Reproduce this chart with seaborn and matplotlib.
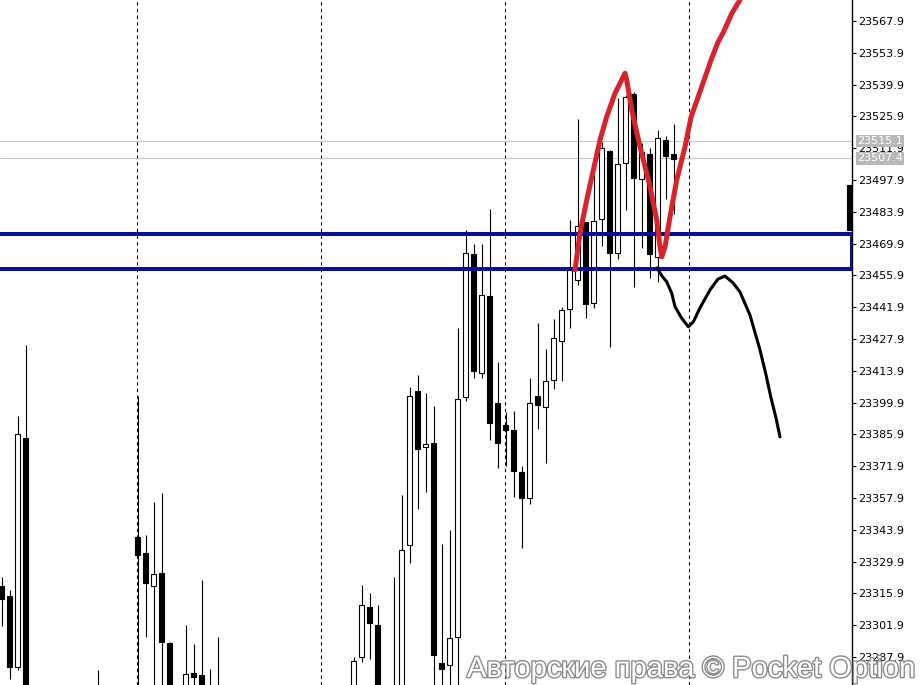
import numpy as np
import pandas as pd
import seaborn as sns
import matplotlib.pyplot as plt
from matplotlib.patches import Rectangle
import matplotlib.patheffects as pe

# --- candles (bar number, OHLC) ---
bar_idx = [0, 1, 2, 3, 12, 17, 18, 19, 20, 21, 23, 24, 25, 26, 27,
           44, 45, 46, 47, 49, 50, 51, 52, 53, 54, 55, 56, 57, 58, 59,
           60, 61, 62, 63, 64, 65, 66, 67, 68, 69, 70, 71, 72, 73, 74,
           75, 76, 77, 78, 79, 80, 81, 82, 83, 84, 106]
opens = [23319.2, 23314.8, 23283.4, 23384.3, 23262.0, 23340.6, 23333.7, 23319.3, 23324.8, 23293.9,
         23268.0, 23280.9, 23279.8, 23268.0, 23270.0,
         23270.0, 23287.8, 23309.8, 23301.9, 23265.0, 23268.0, 23337.1, 23405.0, 23380.5, 23382.1,
         23285.3, 23284.5, 23296.8, 23402.5, 23465.3,
         23413.1, 23446.7, 23399.7, 23390.0, 23387.8, 23369.4, 23357.8, 23402.8, 23398.1, 23409.7,
         23426.9, 23441.1, 23453.9, 23479.4, 23443.6,
         23480.6, 23510.7, 23465.6, 23505.6, 23535.8, 23498.2, 23509.2, 23464.2, 23515.5, 23509.4,
         23495.7]
highs = [23323.1, 23317.4, 23394.0, 23425.3, 23282.2, 23402.8, 23341.5, 23356.1, 23360.0, 23294.5,
         23302.0, 23293.6, 23321.8, 23282.6, 23296.7,
         23287.8, 23319.6, 23315.9, 23310.7, 23323.1, 23359.2, 23406.9, 23412.1, 23404.0, 23398.4,
         23337.7, 23343.8, 23432.9, 23475.9, 23469.6,
         23469.6, 23485.1, 23417.6, 23395.8, 23396.2, 23372.0, 23410.6, 23434.8, 23423.5, 23436.7,
         23441.9, 23480.3, 23524.6, 23479.5, 23500.1,
         23514.8, 23511.1, 23534.0, 23535.3, 23536.8, 23514.2, 23511.9, 23519.9, 23517.3, 23522.4,
         23495.7]
lows = [23301.6, 23278.2, 23282.2, 23240.0, 23250.0, 23260.0, 23296.8, 23265.0, 23262.0, 23255.0,
        23262.0, 23266.0, 23255.0, 23258.0, 23260.0,
        23265.0, 23285.8, 23286.9, 23255.0, 23258.0, 23262.0, 23329.2, 23353.2, 23360.7, 23268.0,
        23270.0, 23270.0, 23268.0, 23400.7, 23410.6,
        23410.6, 23383.4, 23371.0, 23372.0, 23358.5, 23335.8, 23355.1, 23388.3, 23373.2, 23405.8,
        23409.5, 23432.7, 23451.7, 23437.0, 23441.4,
        23468.9, 23424.4, 23463.1, 23484.7, 23450.9, 23467.8, 23454.6, 23453.1, 23489.4, 23482.8,
        23475.9]
closes = [23313.6, 23283.6, 23385.9, 23250.0, 23258.0, 23332.9, 23320.6, 23324.3, 23294.6, 23265.0,
          23280.4, 23279.2, 23262.0, 23264.0, 23265.0,
          23286.3, 23310.7, 23302.7, 23262.0, 23270.0, 23334.9, 23402.8, 23379.6, 23381.5, 23288.8,
          23282.6, 23296.1, 23401.7, 23465.6, 23413.9,
          23447.1, 23391.1, 23382.0, 23387.8, 23369.9, 23358.0, 23399.7, 23399.0, 23409.3, 23428.2,
          23440.5, 23459.2, 23477.7, 23443.2, 23479.9,
          23511.9, 23465.9, 23505.0, 23534.3, 23498.7, 23510.1, 23465.2, 23516.3, 23508.6, 23507.0,
          23475.9]

price_ticks = [23287.9, 23301.9, 23315.9, 23329.9, 23343.9, 23357.9, 23371.9, 23385.9,
               23399.9, 23413.9, 23427.9, 23441.9, 23455.9, 23469.9, 23483.9, 23497.9,
               23511.9, 23525.9, 23539.9, 23553.9, 23567.9]
ask_price = 23515.1
bid_price = 23507.4
zone = [23458.7, 23474.1]
grid_idx = [17, 40, 63, 86]

# hand drawn annotations (bar number, price)
red_x = [71.69, 72.31, 73.15, 73.98, 74.81, 75.65, 76.69, 77.94, 78.15, 78.78, 79.81, 81.06,
         81.90, 82.31, 82.53, 82.94, 83.56, 84.40, 85.44, 86.19, 87.69, 88.69, 89.51, 90.25,
         91.31, 92.31, 92.56]
red_y = [23458.3, 23474.6, 23489.1, 23502.3, 23515.5, 23525.8, 23536.1, 23544.9, 23541.9,
         23528.7, 23512.6, 23495.0, 23480.3, 23468.5, 23464.1, 23468.5, 23481.7, 23497.9,
         23512.6, 23525.6, 23540.6, 23550.7, 23558.2, 23563.1, 23571.4, 23577.2, 23579.3]
black_x = [81.94, 82.56, 83.15, 83.78, 84.19, 85.03, 85.85, 86.48, 87.31, 88.56, 89.56, 90.44,
           91.44, 92.31, 93.56, 94.81, 95.56, 96.19, 96.81, 97.31]
black_y = [23459.2, 23455.6, 23453.1, 23448.0, 23442.1, 23437.0, 23433.3, 23435.5, 23441.6,
           23449.5, 23454.3, 23455.6, 23452.6, 23448.6, 23438.4, 23423.1, 23412.1, 23401.9,
           23393.1, 23384.8]

sns.set_theme(style="white")
plt.rcParams["font.family"] = ["DejaVu Sans"]

df = pd.DataFrame({"idx": bar_idx, "open": opens, "high": highs, "low": lows, "close": closes})
up = df["close"] >= df["open"]

fig = plt.figure(figsize=(9.23, 6.85), dpi=100)
ax = fig.add_axes([0, 0, 852 / 923, 1])
ax.set_facecolor("white")

for g in grid_idx:
    ax.axvline(g - 0.06, color="black", lw=0.8, ls=(0, (3, 3)), zorder=1)
for p in (ask_price, bid_price):
    ax.axhline(p, color="#c4c4c4", lw=0.8, zorder=1)

# candles
ax.vlines(df["idx"], df["low"], df["high"], color="black", lw=0.8, zorder=2)
ax.bar(df["idx"], (df["close"] - df["open"]).abs().clip(lower=0.3),
       bottom=df[["open", "close"]].min(axis=1), width=0.55,
       color=np.where(up, "white", "black"), edgecolor="black", lw=0.8, zorder=3)

# support zone
ax.add_patch(Rectangle((-3, zone[0]), 106.31 + 3, zone[1] - zone[0], fill=False,
                       edgecolor="#0c0c9c", lw=2.9, zorder=4))

sns.lineplot(x=red_x, y=red_y, sort=False, estimator=None, color="#d8232a", lw=3.6,
             ax=ax, zorder=5, solid_capstyle="round")
sns.lineplot(x=black_x, y=black_y, sort=False, estimator=None, color="black", lw=2.2,
             ax=ax, zorder=5, solid_capstyle="round")

ax.set_xlim(-0.19, 106.31)
ax.set_ylim(23275.57, 23577.15)
ax.set_xticks([])
ax.yaxis.tick_right()
ax.set_yticks(price_ticks)
ax.set_yticklabels([f"{v:.1f}" for v in price_ticks])
ax.tick_params(axis="y", direction="out", length=3, width=0.8, pad=1.5,
               labelsize=8, colors="black", right=True, left=False)
for s in ["top", "left", "bottom"]:
    ax.spines[s].set_visible(False)
ax.spines["right"].set_color("black")
ax.spines["right"].set_linewidth(1)
ax.set_xlabel("")
ax.set_ylabel("")
ax.grid(False)

for p in (ask_price, bid_price):
    ax.text(1.006, p, f"{p:.1f}", transform=ax.get_yaxis_transform(), color="white",
            fontsize=8, va="center", ha="left", clip_on=False, zorder=6,
            bbox=dict(boxstyle="square,pad=0.12", fc="#b8b8b8", ec="none"))

fig.text(467 / 923, 1 - 677 / 685, "Авторские права © Pocket Option", fontsize=21,
         family=["Liberation Sans", "DejaVu Sans"], color="white", ha="left", va="baseline",
         zorder=10, path_effects=[pe.withStroke(linewidth=2.0, foreground="#8c8c8c")])

fig.savefig("out.png", dpi=100)
plt.close()
